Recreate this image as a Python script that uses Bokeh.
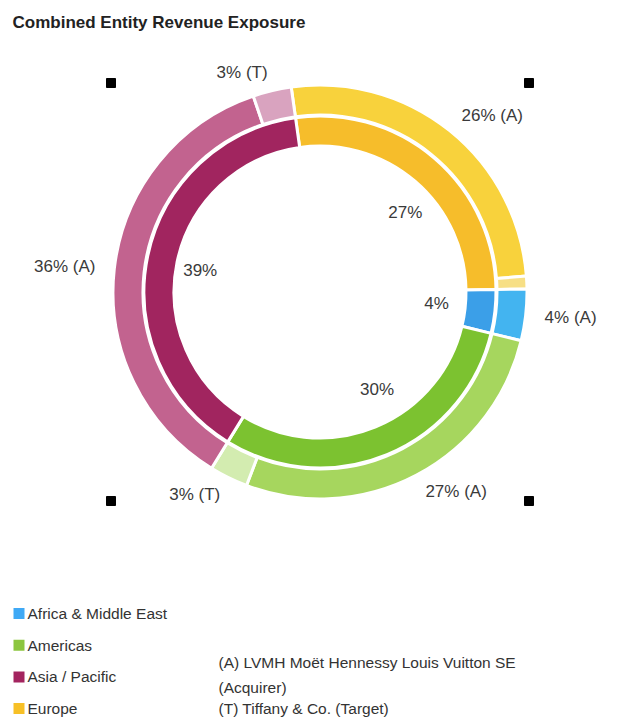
import numpy as np
from bokeh.plotting import figure
from bokeh.models import Range1d
from bokeh.core.properties import value
from bokeh.embed import file_html
from bokeh.resources import INLINE

W, H = 626, 722

# ---------------- data ----------------
title = "Combined Entity Revenue Exposure"

legend_regions = ["Africa & Middle East", "Americas", "Asia / Pacific", "Europe"]
legend_colors = ["#3fa9f5", "#8cc63f", "#a3245f", "#f7c026"]

# inner ring (combined entity), clockwise from the top
inner_regions = ["Europe", "Africa & Middle East", "Americas", "Asia / Pacific"]
inner_pct = [27, 4, 30, 39]
inner_colors = ["#f6bd2b", "#3b9fe8", "#7cc230", "#a1255f"]

# outer ring (by entity: A = acquirer, T = target), clockwise from the top
outer_regions = ["Europe", "Europe", "Africa & Middle East", "Americas",
                 "Americas", "Asia / Pacific", "Asia / Pacific"]
outer_entity = ["A", "T", "A", "A", "T", "A", "T"]
outer_pct = [26, 1, 4, 27, 3, 36, 3]
outer_colors = ["#f8d23c", "#f7df85", "#43b4f0", "#a6d65e",
                "#d3ecb0", "#c2638f", "#d9a3bf"]

footnotes = ["(A) LVMH Mo\u00ebt Hennessy Louis Vuitton SE", "(Acquirer)",
             "(T) Tiffany & Co. (Target)"]

# ---------------- layout ----------------
def sy(y):
    return H - y

cx, cy = 319.5, sy(291.5)
start_deg = -8.0
FONT = "Liberation Sans"

p = figure(width=W, height=H, x_range=Range1d(0, W), y_range=Range1d(0, H),
           output_backend="svg", toolbar_location=None,
           x_axis_location=None, y_axis_location=None, min_border=0)
p.grid.visible = False
p.outline_line_color = None
p.background_fill_color = "white"
p.border_fill_color = "white"


def ring(pcts, colors, r0, r1):
    cum = np.concatenate([[0], np.cumsum(pcts)])
    th0 = start_deg + cum[:-1] * 3.6
    th1 = start_deg + cum[1:] * 3.6
    p.annular_wedge(x=cx, y=cy, inner_radius=r0, outer_radius=r1,
                    start_angle=np.radians(90 - th1), end_angle=np.radians(90 - th0),
                    fill_color=colors, line_color="white", line_width=3)
    return (th0 + th1) / 2.0


def labels(mids, texts, R, size):
    m = np.radians(mids)
    xs = cx + R * np.sin(m)
    ys = cy + R * np.cos(m)
    for x, y, s, t in zip(xs, ys, np.sin(m), texts):
        p.text(x=[x], y=[y], text=[t], text_align="left" if s >= 0 else "right",
               text_baseline="middle", text_font=value(FONT),
               text_font_size=size, text_color="#3a3a3a")


inner_mid = ring(inner_pct, inner_colors, 146, 176)
outer_mid = ring(outer_pct, outer_colors, 177, 207)

labels(inner_mid, [f"{v}%" for v in inner_pct], 105, "17px")
keep = [i for i, v in enumerate(outer_pct) if v >= 2]
labels(outer_mid[keep], [f"{outer_pct[i]}% ({outer_entity[i]})" for i in keep], 226, "17px")

# corner handles
h = 209
p.scatter(x=[cx - h, cx + h, cx - h, cx + h], y=[cy + h, cy + h, cy - h, cy - h],
          marker="square", size=9, color="black")

# title
p.text(x=[12], y=[sy(22)], text=[title], text_font=value(FONT), text_font_size="17px",
       text_font_style="bold", text_baseline="middle", text_color="#222222")

# legend
ly = [sy(613 + i * 31.7) for i in range(len(legend_regions))]
p.scatter(x=[18.5] * len(ly), y=ly, marker="square", size=11,
          fill_color=legend_colors, line_color=None)
p.text(x=[27] * len(ly), y=ly, text=legend_regions, text_font=value(FONT),
       text_font_size="15.5px", text_baseline="middle", text_color="#333333")

# footnotes
p.text(x=[218] * 3, y=[sy(662), sy(687), sy(708)], text=footnotes,
       text_font=value(FONT), text_font_size="15.5px", text_baseline="middle",
       text_color="#333333")

open("out.html", "w").write(file_html(p, INLINE))
